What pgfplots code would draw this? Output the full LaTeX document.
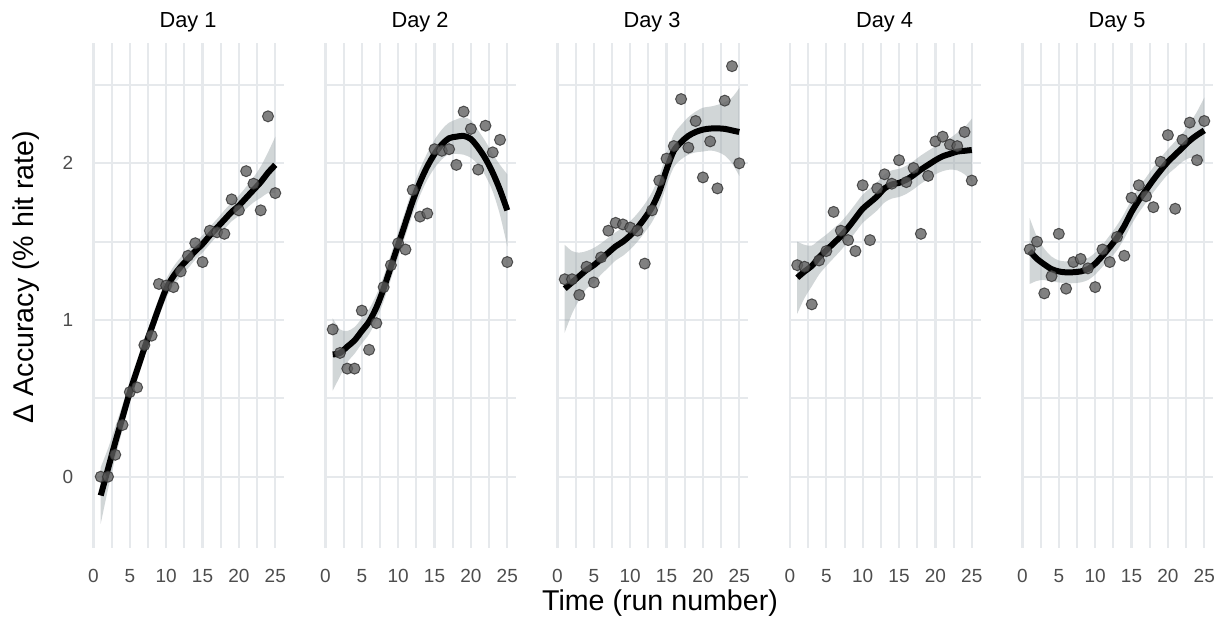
\documentclass[border=0pt]{standalone}
\usepackage{fontspec}
\setmainfont{Liberation Sans}
\usepackage{pgfplots}
\pgfplotsset{compat=1.18}
\usepackage{pgfplotstable}
\usepgfplotslibrary{fillbetween}
\definecolor{gridc}{HTML}{E6E9EC}
\definecolor{tickc}{HTML}{4D4D4D}
\definecolor{ptfill}{HTML}{5E5E5E}
\definecolor{ptdraw}{HTML}{333333}
\definecolor{ribbonc}{HTML}{9AA3A7}

% x = run, y = observed, fit = smoother, se = half width of band
\pgfplotstableread{
x y fit se
1 0.00 -0.12 0.18
2 0.00 0.05 0.13
3 0.14 0.22 0.10
4 0.33 0.38 0.08
5 0.54 0.54 0.07
6 0.57 0.68 0.065
7 0.84 0.82 0.06
8 0.90 0.95 0.06
9 1.23 1.08 0.06
10 1.22 1.20 0.06
11 1.21 1.28 0.06
12 1.31 1.34 0.06
13 1.41 1.39 0.06
14 1.49 1.44 0.055
15 1.37 1.485 0.055
16 1.57 1.54 0.055
17 1.56 1.59 0.055
18 1.55 1.64 0.06
19 1.77 1.69 0.06
20 1.70 1.73 0.065
21 1.95 1.78 0.07
22 1.87 1.83 0.08
23 1.70 1.88 0.10
24 2.30 1.94 0.13
25 1.81 1.99 0.18
}\dayA
\pgfplotstableread{
x y fit se
1 0.94 0.78 0.23
2 0.79 0.79 0.15
3 0.69 0.83 0.10
4 0.69 0.87 0.085
5 1.06 0.93 0.08
6 0.81 0.99 0.08
7 0.98 1.08 0.08
8 1.21 1.20 0.08
9 1.35 1.34 0.08
10 1.49 1.48 0.08
11 1.45 1.62 0.08
12 1.83 1.76 0.085
13 1.66 1.88 0.085
14 1.68 1.98 0.085
15 2.09 2.06 0.09
16 2.08 2.12 0.095
17 2.09 2.16 0.10
18 1.99 2.17 0.11
19 2.33 2.175 0.12
20 2.22 2.155 0.12
21 1.96 2.10 0.11
22 2.24 2.03 0.11
23 2.07 1.94 0.12
24 2.15 1.83 0.16
25 1.37 1.70 0.23
}\dayB
\pgfplotstableread{
x y fit se
1 1.26 1.20 0.28
2 1.26 1.24 0.20
3 1.16 1.28 0.15
4 1.34 1.32 0.12
5 1.24 1.35 0.11
6 1.40 1.39 0.10
7 1.57 1.43 0.095
8 1.62 1.47 0.09
9 1.61 1.50 0.09
10 1.59 1.54 0.09
11 1.57 1.59 0.09
12 1.36 1.65 0.09
13 1.70 1.72 0.095
14 1.89 1.82 0.10
15 2.03 1.96 0.10
16 2.11 2.08 0.105
17 2.41 2.135 0.11
18 2.10 2.175 0.12
19 2.27 2.20 0.13
20 1.91 2.215 0.14
21 2.14 2.222 0.14
22 1.84 2.223 0.15
23 2.40 2.22 0.17
24 2.62 2.21 0.21
25 2.00 2.20 0.28
}\dayC
\pgfplotstableread{
x y fit se
1 1.35 1.27 0.23
2 1.34 1.31 0.17
3 1.10 1.345 0.13
4 1.38 1.40 0.11
5 1.44 1.445 0.10
6 1.69 1.49 0.095
7 1.57 1.535 0.09
8 1.51 1.59 0.09
9 1.44 1.65 0.09
10 1.86 1.71 0.09
11 1.51 1.75 0.09
12 1.84 1.79 0.09
13 1.93 1.84 0.09
14 1.87 1.865 0.09
15 2.02 1.875 0.09
16 1.88 1.895 0.09
17 1.97 1.925 0.09
18 1.55 1.96 0.09
19 1.92 1.99 0.09
20 2.14 2.02 0.09
21 2.17 2.045 0.095
22 2.12 2.06 0.10
23 2.11 2.075 0.12
24 2.20 2.08 0.15
25 1.89 2.085 0.20
}\dayD
\pgfplotstableread{
x y fit se
1 1.45 1.44 0.21
2 1.50 1.39 0.14
3 1.17 1.355 0.10
4 1.28 1.325 0.08
5 1.55 1.31 0.07
6 1.20 1.304 0.07
7 1.37 1.305 0.07
8 1.39 1.31 0.07
9 1.33 1.325 0.07
10 1.21 1.36 0.07
11 1.45 1.41 0.07
12 1.37 1.465 0.075
13 1.53 1.525 0.08
14 1.41 1.60 0.08
15 1.78 1.69 0.08
16 1.86 1.765 0.08
17 1.79 1.83 0.08
18 1.72 1.895 0.08
19 2.01 1.955 0.08
20 2.18 2.01 0.08
21 1.71 2.055 0.085
22 2.15 2.10 0.09
23 2.26 2.145 0.11
24 2.02 2.18 0.15
25 2.27 2.21 0.21
}\dayE

\pgfplotsset{dayax/.style={
  scale only axis, width=96bp, height=252.5bp, anchor=south west,
  xmin=-0.2, xmax=26.2, ymin=-0.455, ymax=2.768,
  xtick={0,5,...,25}, minor xtick={2.5,7.5,...,22.5},
  ytick={0,1,2}, minor ytick={0.5,1.5,2.5},
  grid=both,
  major grid style={gridc, line width=1.1bp},
  minor grid style={gridc, line width=1.0bp},
  axis line style={draw=none}, tick style={draw=none},
  major tick length=0pt, minor tick length=0pt,
  /pgf/number format/assume math mode=true,
  tick label style={font=\fontsize{9.5bp}{11bp}\selectfont, text=tickc},
  xticklabel style={anchor=center, yshift=-14bp},
  yticklabel style={anchor=center, xshift=-12bp},
  every axis title shift=0pt,
  title style={font=\fontsize{10.9bp}{13bp}\selectfont, anchor=center, at={(0.5,1)}, yshift=10.5bp},
}}

\newcommand{\daypanel}[4]{%
\begin{axis}[dayax, at={(#1,36bp)}, title={#2}, #4]
\addplot[name path=up, draw=none, smooth, forget plot] table[x=x, y expr=\thisrow{fit}+\thisrow{se}] {#3};
\addplot[name path=dn, draw=none, smooth, forget plot] table[x=x, y expr=\thisrow{fit}-\thisrow{se}] {#3};
\addplot[fill=ribbonc, fill opacity=0.45, draw=none] fill between[of=up and dn];
\addplot[only marks, mark=*, mark size=2.75bp, mark options={fill=ptfill, draw=ptdraw, fill opacity=0.78, draw opacity=0.8, line width=0.5bp}] table[x=x, y=y] {#3};
\addplot[black, line width=3bp, smooth] table[x=x, y=fit] {#3};
\end{axis}}

\begin{document}
\begin{tikzpicture}
\daypanel{46bp}{Day 1}{\dayA}{}
\daypanel{162bp}{Day 2}{\dayB}{yticklabels={}}
\daypanel{278bp}{Day 3}{\dayC}{yticklabels={}}
\daypanel{394.25bp}{Day 4}{\dayD}{yticklabels={}}
\daypanel{510.5bp}{Day 5}{\dayE}{yticklabels={}}
\node[rotate=90, font=\fontsize{14.3bp}{16bp}\selectfont] at (13bp,171.5bp) {Δ Accuracy (\% hit rate)};
\node[font=\fontsize{14.3bp}{16bp}\selectfont] at (330bp,8.5bp) {Time (run number)};
\pgfresetboundingbox
\path[use as bounding box] (0,0) rectangle (613bp,310bp);
\end{tikzpicture}
\end{document}
